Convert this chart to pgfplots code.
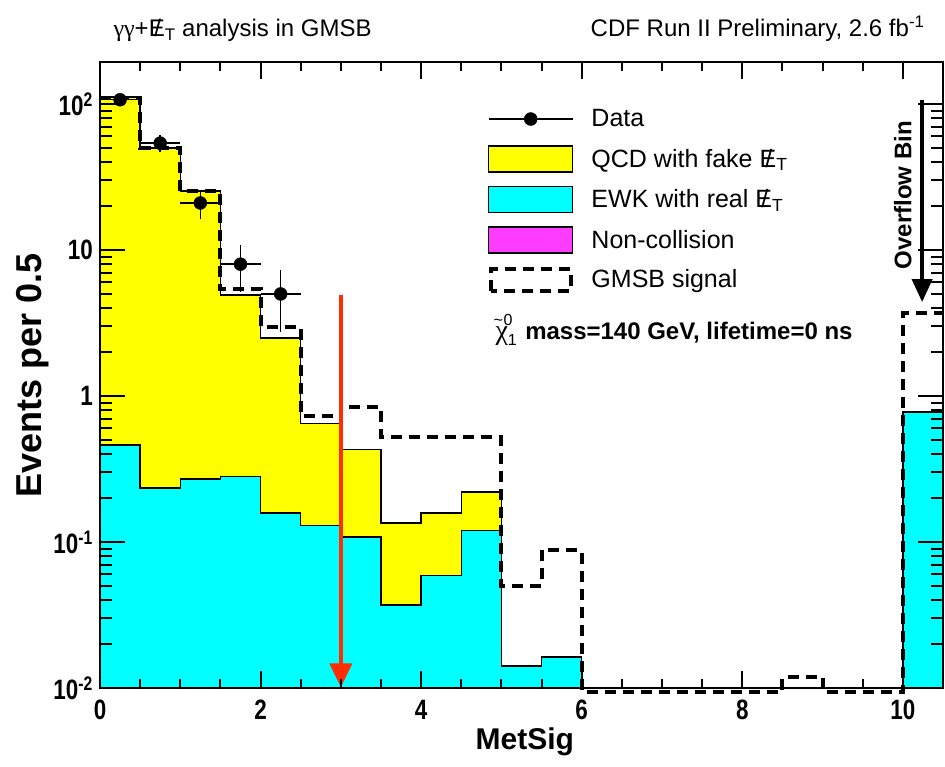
\documentclass[border=0pt]{standalone}
\usepackage{fontspec}
\setmainfont{Liberation Sans}
\newfontfamily\tickfont{Liberation Sans}[FakeStretch=0.8]
\newfontfamily\greekfont{Liberation Serif}
\usepackage{pgfplots}
\pgfplotsset{compat=1.18}
\usetikzlibrary{arrows.meta}
\definecolor{rootyellow}{RGB}{255,255,0}
\definecolor{rootcyan}{RGB}{0,255,255}
\definecolor{rootmagenta}{RGB}{255,60,255}
\definecolor{rootred}{RGB}{255,45,0}
\newcommand{\met}{\ooalign{E\cr\hidewidth\kern0.08em/\hidewidth}\textsubscript{T}}
\begin{document}
\begin{tikzpicture}
\useasboundingbox (-100pt,-78pt) rectangle (845pt,688pt);
\begin{axis}[
  at={(0pt,0pt)}, anchor=south west,
  scale only axis, width=843pt, height=626pt,
  xmin=0, xmax=10.5, ymode=log, ymin=0.01, ymax=194,
  clip=false,
  axis on top,
  axis line style={line width=2pt},
  tick style={line width=2pt, black},
  x tick style={/pgfplots/major tick length=17pt, /pgfplots/minor tick length=9pt},
  y tick style={/pgfplots/major tick length=25pt, /pgfplots/minor tick length=12pt},
  xtick={0,2,4,6,8,10},
  xticklabels={0,2,4,6,8,10},
  minor xtick={0.5,1,1.5,2.5,3,3.5,4.5,5,5.5,6.5,7,7.5,8.5,9,9.5,10.5},
  ytick={0.01,0.1,1,10,100},
  yticklabels={10\textsuperscript{-2},10\textsuperscript{-1},1,10,10\textsuperscript{2}},
  minor ytick={0.02,0.03,0.04,0.05,0.06,0.07,0.08,0.09,0.2,0.3,0.4,0.5,0.6,0.7,0.8,0.9,2,3,4,5,6,7,8,9,20,30,40,50,60,70,80,90},
  xticklabel style={font=\tickfont\bfseries\fontsize{28}{32}\selectfont, inner sep=0pt, anchor=north, yshift=-12pt},
  yticklabel style={font=\tickfont\bfseries\fontsize{28}{32}\selectfont, inner sep=0pt, anchor=east, xshift=-7pt},
  xlabel={MetSig},
  ylabel={Events per 0.5},
  xlabel style={font=\bfseries\fontsize{30}{34}\selectfont, at={(axis description cs:0.504,-0.099)}, anchor=base},
  ylabel style={font=\bfseries\fontsize{36}{40}\selectfont, at={(axis description cs:-0.0688,0.5)}, anchor=base, rotate=0},
  legend style={at={(0.46,0.93)}, anchor=north west, draw=none, fill=none, inner sep=0pt,
    row sep=13pt, column sep=18pt, font=\fontsize{25}{30}\selectfont,
    nodes={inner sep=0pt}},
  legend cell align=left,
]
% total (QCD + EWK) stacked
\addplot[const plot, fill=rootyellow, draw=black, line width=1.5pt, forget plot] coordinates {
 (0,0.01) (0,112) (0.5,50) (1,25.4) (1.5,4.9) (2,2.5) (2.5,0.65) (3,0.43) (3.5,0.135) (4,0.158) (4.5,0.22) (5,0.0142) (5.5,0.0163) (6,0.0163) (6,0.01)};
% EWK
\addplot[const plot, fill=rootcyan, draw=black, line width=1.5pt, forget plot] coordinates {
 (0,0.01) (0,0.46) (0.5,0.235) (1,0.27) (1.5,0.28) (2,0.158) (2.5,0.13) (3,0.108) (3.5,0.037) (4,0.059) (4.5,0.12) (5,0.0142) (5.5,0.0163) (6,0.0163) (6,0.01)};
\addplot[const plot, fill=rootcyan, draw=black, line width=1.5pt, forget plot] coordinates {
 (10,0.01) (10,0.78) (10.5,0.78) (10.5,0.01)};
% GMSB signal
\addplot[const plot, black, line width=4pt, dash pattern=on 11pt off 7pt, forget plot] coordinates {
 (0,110) (0.5,50) (1,25.4) (1.5,5.4) (2,2.97) (2.5,0.73) (3,0.84) (3.5,0.52) (4,0.52) (4.5,0.52) (5,0.05) (5.5,0.088) (6,0.0094) (8.5,0.0119) (9,0.0094) (10,3.7) (10.5,3.7)};
% data
\addplot[only marks, mark=*, mark size=6.5pt, black, forget plot,
  error bars/.cd, x dir=both, x explicit, y dir=both, y explicit, error mark=none,
  error bar style={line width=1.5pt}] coordinates {
 (0.25,107) +- (0.25,10.3)
 (0.75,54) +- (0.25,7.35)
 (1.25,21) +- (0.25,4.58)
 (1.75,8) +- (0.25,2.83)
 (2.25,5) +- (0.25,2.24)};
% cut arrow
\addplot[rootred, line width=4pt, -{Triangle[length=24pt,width=22pt]}, forget plot] coordinates {(3,4.92) (3,0.0101)};
% overflow arrow
\addplot[black, line width=4pt, -{Triangle[length=23pt,width=20pt]}, forget plot] coordinates {(10.24,107) (10.24,4.4)};
\node[rotate=90, font=\bfseries\fontsize{24}{28}\selectfont] at (axis cs:10.0,23.8) {Overflow Bin};
\node[anchor=base west, font=\bfseries\fontsize{24}{28}\selectfont] at (axis description cs:0.465,0.556)
  {{\mdseries\greekfont\fontsize{28}{28}\selectfont χ}\rlap{\raisebox{0.62em}{\mdseries\fontsize{16}{16}\selectfont\kern-0.9em\textasciitilde\kern0.05em0}}\raisebox{-0.25em}{\mdseries\fontsize{16}{16}\selectfont 1}\kern0.35em mass=140 GeV, lifetime=0 ns};
% legend
\addlegendimage{legend image code/.code={\path[draw=none,fill=none] (0pt,-13pt) rectangle (84pt,13pt); \draw[line width=1.5pt, black] (0pt,0pt) -- (84pt,0pt); \fill[black] (42pt,0pt) circle (6.5pt);}}
\addlegendentry{Data}
\addlegendimage{legend image code/.code={\draw[line width=1.5pt, black, fill=rootyellow] (0pt,-13pt) rectangle (84pt,13pt);}}
\addlegendentry{QCD with fake \met}
\addlegendimage{legend image code/.code={\draw[line width=1.5pt, black, fill=rootcyan] (0pt,-13pt) rectangle (84pt,13pt);}}
\addlegendentry{EWK with real \met}
\addlegendimage{legend image code/.code={\draw[line width=1.5pt, black, fill=rootmagenta] (0pt,-13pt) rectangle (84pt,13pt);}}
\addlegendentry{Non-collision}
\addlegendimage{legend image code/.code={\path[draw=none,fill=none] (0pt,-13pt) rectangle (84pt,13pt); \draw[line width=4pt, black, dash pattern=on 11pt off 7pt] (2pt,-11pt) rectangle (82pt,11pt);}}
\addlegendentry{GMSB signal}
\end{axis}
\node[anchor=base west, font=\fontsize{24}{28}\selectfont] at (10pt,651pt) {{\greekfont γγ}+\met\ analysis in GMSB};
\node[anchor=base east, font=\fontsize{24}{28}\selectfont] at (828pt,651pt) {CDF Run II Preliminary, 2.6 fb\textsuperscript{-1}};
\end{tikzpicture}
\end{document}
